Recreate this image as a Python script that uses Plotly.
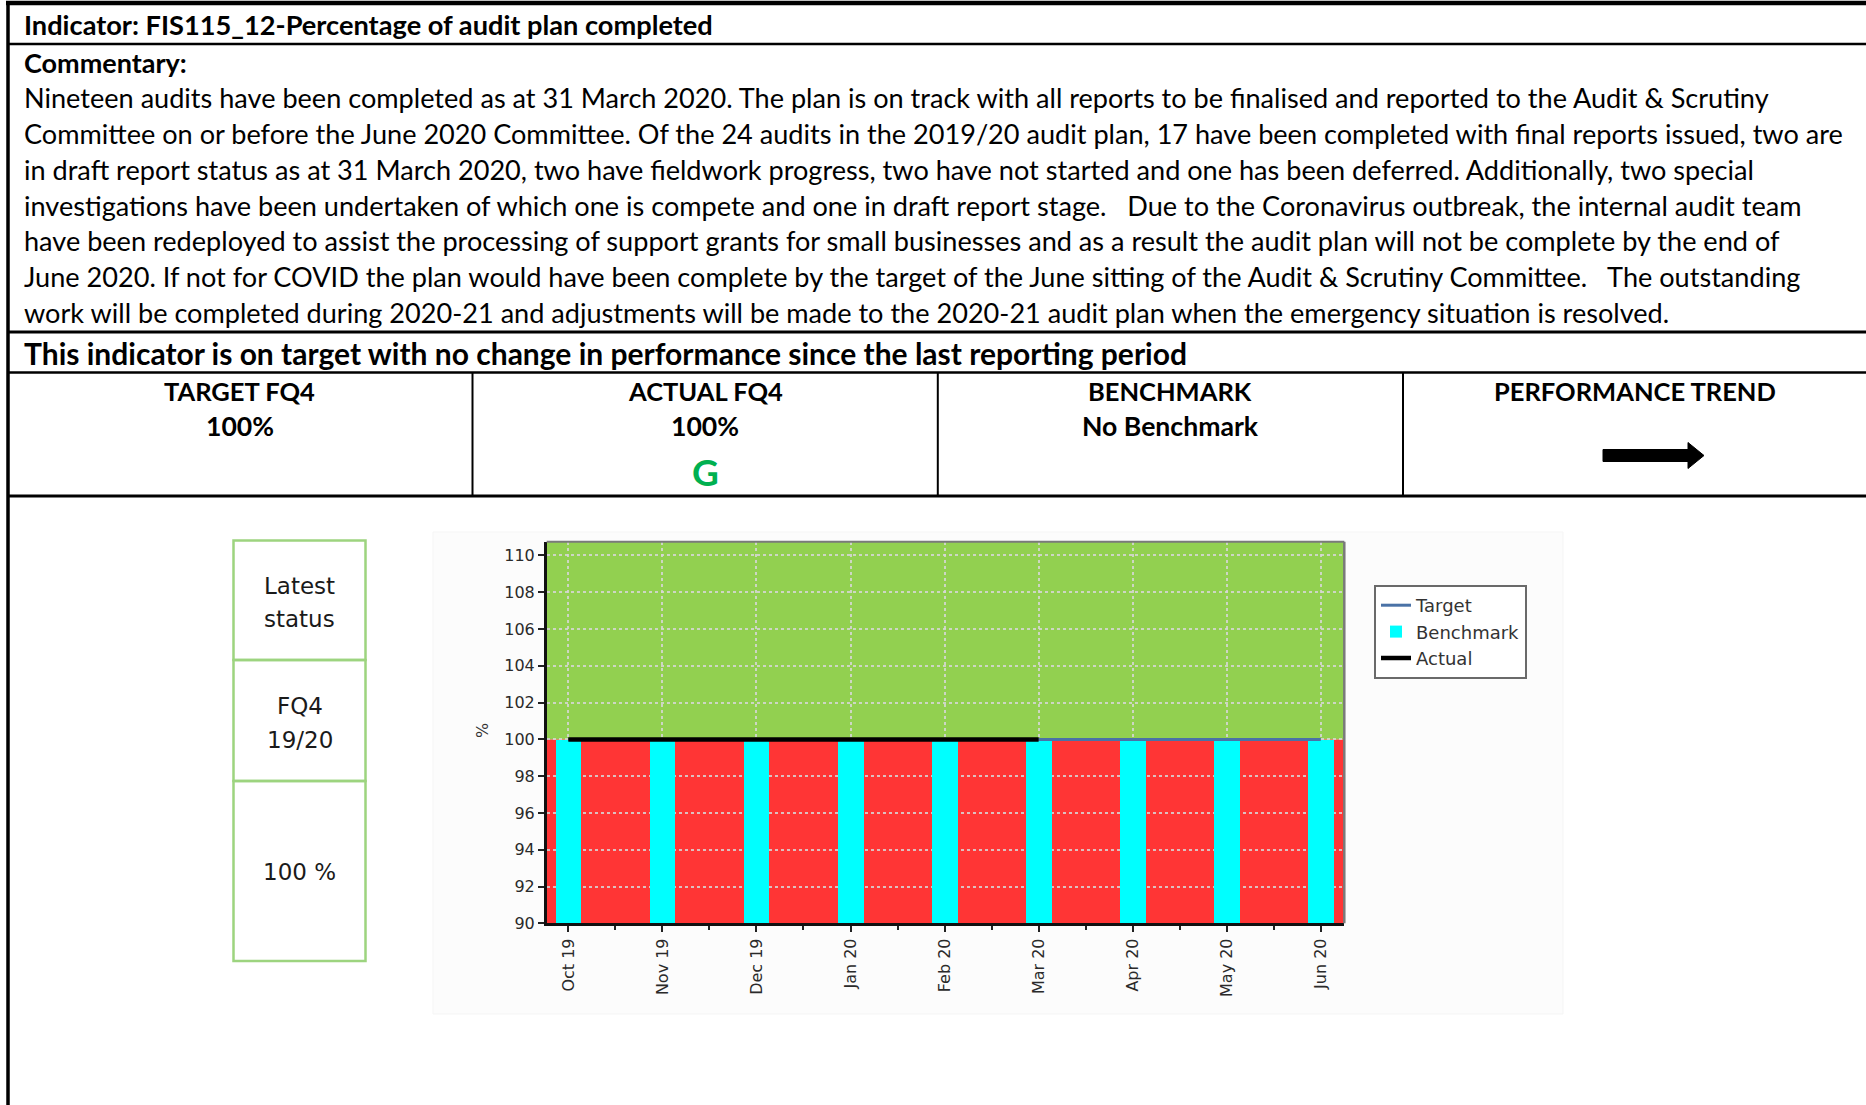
import plotly.graph_objects as go

W, H = 1866, 1105

# ---- data -------------------------------------------------------------
months = ["Oct 19", "Nov 19", "Dec 19", "Jan 20", "Feb 20",
          "Mar 20", "Apr 20", "May 20", "Jun 20"]
target = [100, 100, 100, 100, 100, 100, 100, 100, 100]
benchmark = [100, 100, 100, 100, 100, 100, 100, 100, 100]
actual = [100, 100, 100, 100, 100, 100]
threshold = 100          # red below, green above
y_range = [90, 110.75]

indicator_title = "Indicator: FIS115_12-Percentage of audit plan completed"
commentary_lines = [
    "Nineteen audits have been completed as at 31 March 2020. The plan is on track with all reports to be finalised and reported to the Audit & Scrutiny",
    "Committee on or before the June 2020 Committee. Of the 24 audits in the 2019/20 audit plan, 17 have been completed with final reports issued, two are",
    "in draft report status as at 31 March 2020, two have fieldwork progress, two have not started and one has been deferred. Additionally, two special",
    "investigations have been undertaken of which one is compete and one in draft report stage.   Due to the Coronavirus outbreak, the internal audit team",
    "have been redeployed to assist the processing of support grants for small businesses and as a result the audit plan will not be complete by the end of",
    "June 2020. If not for COVID the plan would have been complete by the target of the June sitting of the Audit & Scrutiny Committee.   The outstanding",
    "work will be completed during 2020-21 and adjustments will be made to the 2020-21 audit plan when the emergency situation is resolved.",
]
status_line = "This indicator is on target with no change in performance since the last reporting period"
kpi_heads = ["TARGET FQ4", "ACTUAL FQ4", "BENCHMARK", "PERFORMANCE TREND"]
kpi_values = ["100%", "100%", "No Benchmark", ""]
rag = "G"
latest_status = [["Latest", "status"], ["FQ4", "19/20"], ["100 %"]]

# ---- helpers: pixel -> paper ------------------------------------------
def px(x):
    return x / W


def py(y):
    return 1 - y / H


TXT = "Lato, 'Open Sans', sans-serif"
CH = "Tahoma, 'DejaVu Sans', Verdana, sans-serif"

xs = list(range(len(months)))

fig = go.Figure()
fig.add_trace(go.Bar(
    x=xs, y=benchmark, name="Benchmark", width=0.27,
    marker=dict(color="#00FFFF", line=dict(width=0)),
    legendrank=2, hoverinfo="skip"))
fig.add_trace(go.Scatter(
    x=xs, y=target, name="Target", mode="lines",
    line=dict(color="#4A72A6", width=3), legendrank=1))
fig.add_trace(go.Scatter(
    x=xs[:len(actual)], y=actual, name="Actual", mode="lines",
    line=dict(color="#000000", width=4.5), legendrank=3))

shapes = []
ann = []

# ---- report table frame ----------------------------------------------
def hline(y, x0, x1, w=2.5, c="#000"):
    shapes.append(dict(type="line", xref="paper", yref="paper",
                       x0=px(x0), x1=px(x1), y0=py(y), y1=py(y),
                       line=dict(color=c, width=w)))


def vline(x, y0, y1, w=2, c="#000"):
    shapes.append(dict(type="line", xref="paper", yref="paper",
                       x0=px(x), x1=px(x), y0=py(y0), y1=py(y1),
                       line=dict(color=c, width=w)))


hline(3, 6, W, 4.5)
vline(8, 1, H, 3.5)
hline(44, 8, W, 2.5)
hline(332, 8, W, 3)
hline(372.5, 8, W, 2.5)
hline(496, 8, W, 3)
for xv in (472.5, 937.8, 1403):
    vline(xv, 372.5, 496, 2)

# ---- table text --------------------------------------------------------
def text(x, y, s, size, bold=False, anchor="left", color="#000", font=TXT):
    ann.append(dict(xref="paper", yref="paper", x=px(x), y=py(y),
                    text=("<b>%s</b>" % s) if bold else s,
                    xanchor=anchor, yanchor="middle", showarrow=False,
                    font=dict(family=font, size=size, color=color)))


text(22, 24.8, indicator_title, 27.2, bold=True)
text(22, 62, "Commentary:", 27, bold=True)
line_y0, line_gap = 97.3, 35.9
for i, s in enumerate(commentary_lines):
    text(22, line_y0 + i * line_gap, s.replace("   ", "\u00a0\u00a0\u00a0"), 27.1)
text(22, 352.6, status_line, 30, bold=True)

col_centres = [240, 705, 1170, 1635]
for c, h, v in zip(col_centres, kpi_heads, kpi_values):
    text(c, 390.5, h, 25.5, bold=True, anchor="center")
    if v:
        text(c, 426.5, v, 26.6, bold=True, anchor="center")
text(col_centres[1], 471.5, rag, 37, bold=True, anchor="center", color="#00B050")

# performance trend arrow (flat)
ax0, ax1, ax2 = 1603, 1688, 1704
ay, sh, hh = 455.5, 6, 13
arrow = "M {} {} L {} {} L {} {} L {} {} L {} {} L {} {} L {} {} Z".format(
    px(ax0), py(ay - sh), px(ax1), py(ay - sh), px(ax1), py(ay - hh),
    px(ax2), py(ay), px(ax1), py(ay + hh), px(ax1), py(ay + sh),
    px(ax0), py(ay + sh))
shapes.append(dict(type="path", xref="paper", yref="paper", path=arrow,
                   fillcolor="#000", line=dict(color="#000", width=1)))

# ---- chart picture background ------------------------------------------
shapes.append(dict(type="rect", xref="paper", yref="paper",
                   x0=px(433), x1=px(1563), y0=py(1014), y1=py(532),
                   fillcolor="#FCFCFC", line=dict(color="#F5F5F5", width=1),
                   layer="below"))

# ---- latest status box --------------------------------------------------
bx0, bx1 = 233.5, 365.5
bxc = (bx0 + bx1) / 2
rows = [(540.5, 660), (660, 781), (781, 961)]
line_pos = [[585.5, 618.8], [705.7, 740.2], [872]]
for (y0, y1), lines, ys in zip(rows, latest_status, line_pos):
    shapes.append(dict(type="rect", xref="paper", yref="paper",
                       x0=px(bx0), x1=px(bx1), y0=py(y1), y1=py(y0),
                       line=dict(color="#9DD47F", width=2.5)))
    for s, yv in zip(lines, ys):
        text(bxc, yv, s, 23, anchor="center", color="#1a1a1a", font=CH)

# ---- RAG bands inside the plot -----------------------------------------
shapes.append(dict(type="rect", xref="x domain", yref="y",
                   x0=0, x1=1, y0=threshold, y1=y_range[1],
                   fillcolor="#92D050", line=dict(width=0), layer="below"))
shapes.append(dict(type="rect", xref="x domain", yref="y",
                   x0=0, x1=1, y0=y_range[0], y1=threshold,
                   fillcolor="#FF3535", line=dict(width=0), layer="below"))
# plot frame (top / right)
shapes.append(dict(type="line", xref="x domain", yref="y domain",
                   x0=0, x1=1, y0=1, y1=1, line=dict(color="#7A7A7A", width=2)))
shapes.append(dict(type="line", xref="x domain", yref="y domain",
                   x0=1, x1=1, y0=0, y1=1, line=dict(color="#7A7A7A", width=2.5)))

# y-axis title
ann.append(dict(xref="paper", yref="paper", x=px(482), y=py(731), text="%",
                textangle=-90, showarrow=False, xanchor="center", yanchor="middle",
                font=dict(family=CH, size=16, color="#333")))

grid = dict(showgrid=True, gridcolor="rgba(215,215,215,0.85)", gridwidth=1.5,
            griddash="dot")
tickfont = dict(family=CH, size=16, color="#2a2a2a")

fig.update_layout(
    width=W, height=H, autosize=False,
    margin=dict(l=0, r=0, t=0, b=0, pad=0, autoexpand=False),
    paper_bgcolor="#FFFFFF", plot_bgcolor="#FFFFFF",
    shapes=shapes, annotations=ann,
    bargap=0, showlegend=True,
    legend=dict(x=px(1374), y=py(585), xanchor="left", yanchor="top",
                bgcolor="#FFFFFF", bordercolor="#6A6A6A", borderwidth=2,
                font=dict(family=CH, size=18, color="#333"),
                traceorder="normal", itemwidth=30, tracegroupgap=0),
    xaxis=dict(domain=[px(546.7), px(1344.3)], range=[-0.23, 8.25],
               tickmode="array", tickvals=xs, ticktext=months, tickangle=-90,
               ticks="outside", ticklen=6, tickwidth=1.5, tickcolor="#222",
               showline=True, linecolor="#111", linewidth=2.5,
               zeroline=False, tickfont=tickfont, fixedrange=True,
               automargin=False,
               minor=dict(tickmode="array",
                          tickvals=[i + 0.5 for i in xs[:-1]],
                          ticks="outside", ticklen=4, tickwidth=1.5,
                          tickcolor="#222", showgrid=False),
               **grid),
    yaxis=dict(domain=[py(923.3), py(541.7)], range=y_range,
               tick0=90, dtick=2, ticks="outside", ticklen=6, tickwidth=1.5,
               tickcolor="#222", showline=True, linecolor="#111", linewidth=2.5,
               zeroline=False, tickfont=tickfont, fixedrange=True,
               automargin=False,
               **grid),
)

fig.write_html("out.html")
